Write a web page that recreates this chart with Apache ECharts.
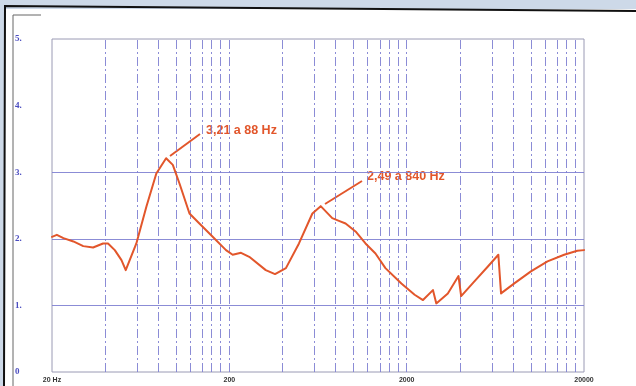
<!DOCTYPE html>
<html>
<head>
<meta charset="utf-8">
<script src="https://cdn.jsdelivr.net/npm/echarts@6/dist/echarts.min.js"></script>
<style>
html,body{margin:0;padding:0;background:#fff;}
#c{width:636px;height:386px;}
</style>
</head>
<body>
<div id="c"></div>
<script>
// Frequency (Hz) and response values
const freqs = [20, 21.3, 23.2, 26.4, 30.0, 34.1, 38.8, 41.4, 45.2, 49.3, 52.1, 59.8, 68.1, 77.5, 88, 96, 104.7, 119.2, 135.6, 161.1, 191.5, 208.9, 232.8, 259, 321, 362, 417, 494, 588, 655, 761, 830, 905, 1030, 1172, 1334, 1518, 1867, 2218, 2472, 2813, 2939, 3414, 3920, 4058, 4819, 5726, 6577, 6811, 8092, 10040, 12450, 15450, 18330, 20000];
const values = [2.03, 2.06, 2.01, 1.96, 1.89, 1.87, 1.93, 1.93, 1.83, 1.68, 1.53, 1.93, 2.48, 2.98, 3.21, 3.11, 2.83, 2.38, 2.23, 2.03, 1.83, 1.76, 1.79, 1.73, 1.53, 1.47, 1.56, 1.93, 2.38, 2.49, 2.31, 2.27, 2.23, 2.11, 1.93, 1.78, 1.56, 1.33, 1.16, 1.08, 1.23, 1.03, 1.18, 1.44, 1.14, 1.36, 1.58, 1.76, 1.18, 1.33, 1.51, 1.66, 1.76, 1.82, 1.83];
const xTickLabels = ['20 Hz', '200', '2000', '20000'];
const hGridValues = [1, 2, 3];
const annotations = ['3,21 a 88 Hz', '2,49 a 840 Hz'];

const F0 = 20;
const seriesData = freqs.map((f, i) => [Math.log10(f / F0), values[i]]);

// vertical grid lines at 20*k*10^d
const vLines = [];
for (let d = 0; d < 3; d++) {
  for (let k = 1; k <= 9; k++) {
    if (d === 0 && k === 1) continue;
    vLines.push({ xAxis: d + Math.log10(k) });
  }
}
const gridColor = '#7e80d2';

const chart = echarts.init(document.getElementById('c'), null, { renderer: 'canvas' });
chart.setOption({
  backgroundColor: '#ffffff',
  animation: false,
  grid: { left: 52, right: 52, top: 39, bottom: 14, show: true, borderColor: '#9a9ab4', borderWidth: 1, backgroundColor: 'transparent' },
  xAxis: {
    type: 'value', min: 0, max: 3, interval: 1,
    axisLine: { show: false }, axisTick: { show: false },
    splitLine: { show: false },
    axisLabel: {
      margin: 5, fontSize: 7, fontWeight: 'bold', color: '#333',
      fontFamily: 'Liberation Sans, Arial, sans-serif',
      formatter: v => xTickLabels[Math.round(v)],
      showMinLabel: true, showMaxLabel: true
    }
  },
  yAxis: {
    type: 'value', min: 0, max: 5, interval: 1,
    axisLine: { show: false }, axisTick: { show: false },
    splitLine: { show: false },
    axisLabel: {
      margin: 37, align: 'left', fontSize: 9, fontWeight: 'bold', color: '#4a4cc0',
      fontFamily: 'Liberation Serif, Times New Roman, serif',
      padding: [0, 0, 6, 0],
      formatter: v => (v === 0 ? '0' : v + '.')
    }
  },
  series: [
    {
      type: 'line', data: [], silent: true,
      markLine: {
        symbol: 'none', silent: true, label: { show: false },
        lineStyle: { color: gridColor, width: 1, type: [9, 3, 2, 3], opacity: 0.9 },
        data: vLines
      }
    },
    {
      type: 'line', data: [], silent: true,
      markLine: {
        symbol: 'none', silent: true, label: { show: false },
        lineStyle: { color: gridColor, width: 1, type: 'solid', opacity: 0.9 },
        data: hGridValues.map(v => ({ yAxis: v }))
      }
    },
    {
      type: 'line', data: seriesData, showSymbol: false, smooth: false,
      lineStyle: { color: '#e2562b', width: 2, join: 'round', cap: 'round' }, z: 5
    }
  ],
  graphic: [
    { type: 'rect', shape: { x: 0, y: 0, width: 636, height: 9 }, style: { fill: '#cdd9e8' }, silent: true },
    { type: 'rect', shape: { x: 0, y: 0, width: 4, height: 386 }, style: { fill: '#cdd9e8' }, silent: true },
    { type: 'polyline', shape: { points: [[636, 11], [5, 6], [4, 386]] }, style: { stroke: '#111', lineWidth: 2, fill: null }, silent: true },
    { type: 'polyline', shape: { points: [[41, 15], [13, 15], [13, 386]] }, style: { stroke: '#666', lineWidth: 1, fill: null }, silent: true },
    { type: 'line', shape: { x1: 170, y1: 156, x2: 200, y2: 134 }, style: { stroke: '#e2562b', lineWidth: 2 }, silent: true },
    { type: 'text', x: 206, y: 131, style: { text: annotations[0], fill: '#e2562b', font: 'bold 12.5px "Liberation Sans", Arial, sans-serif', textVerticalAlign: 'middle' }, silent: true },
    { type: 'line', shape: { x1: 325, y1: 204, x2: 362, y2: 181 }, style: { stroke: '#e2562b', lineWidth: 2 }, silent: true },
    { type: 'text', x: 367, y: 177, style: { text: annotations[1], fill: '#e2562b', font: 'bold 12.5px "Liberation Sans", Arial, sans-serif', textVerticalAlign: 'middle' }, silent: true }
  ]
});
</script>
</body>
</html>
